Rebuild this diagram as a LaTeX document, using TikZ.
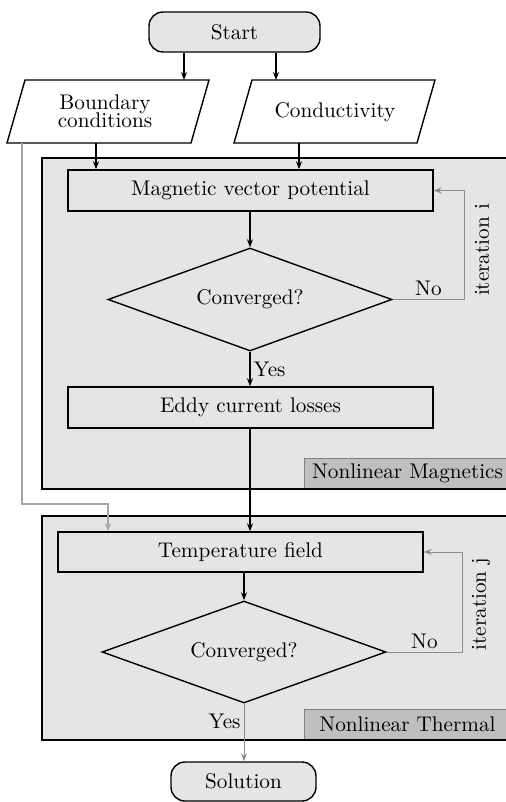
\documentclass[tikz,border=0pt]{standalone}
\usetikzlibrary{shapes.geometric,arrows.meta,calc}
\begin{document}
\begin{tikzpicture}[x=0.5pt,y=-0.5pt,
  font=\fontsize{10.6}{12.7}\selectfont,
  arr/.style={-{Stealth[length=4pt,width=3pt]}, line width=0.6pt, black},
  grayarr/.style={-{Stealth[length=4pt,width=3pt]}, line width=0.5pt, black!45},
  lightarr/.style={-{Stealth[length=4pt,width=3pt]}, line width=0.6pt, gray!70},
  region/.style={fill=gray!20},
  regionborder/.style={draw=black, line width=0.6pt},
  lbl/.style={fill=gray!50, draw=gray, line width=0.5pt, minimum width=103pt, minimum height=15pt, inner sep=0pt, anchor=south west},
  term/.style={draw, fill=gray!20, line width=0.7pt, rounded corners=7pt, inner sep=0pt},
  procbox/.style={draw, line width=0.7pt, minimum width=182.5pt, minimum height=20.5pt, inner sep=0pt},
  decision/.style={draw, diamond, shape aspect=2.76, line width=0.7pt, minimum width=142pt, minimum height=51.5pt, inner sep=0pt},
  para/.style={draw, fill=white, line width=0.7pt},
  lab/.style={inner sep=1.5pt}
]
\useasboundingbox (0,0) rectangle (505,802);

% regions
\path[region] (42,158) rectangle (515,489);
\path[region] (42,516) rectangle (515,740);
\node[lbl] (nlm) at (304,489) {Nonlinear Magnetics};
\node[lbl] (nlt) at (304,740) {Nonlinear Thermal};
\path[regionborder] (42,158) rectangle (515,489);
\path[regionborder] (42,516) rectangle (515,740);

% terminals
\node[term, minimum width=85.5pt, minimum height=20pt] (start) at (234.5,32) {Start};
\node[term, minimum width=72.5pt, minimum height=19.5pt] (sol) at (243.5,781.5) {Solution};

% inputs
\draw[para] (7,143) -- (191,143) -- (209,80) -- (25,80) -- cycle;
\node[align=center] (bc) at (105,111) {Boundary\\[-3.5pt]conditions};
\draw[para] (234,143) -- (417,143) -- (435,80) -- (252,80) -- cycle;
\node (cd) at (335,112) {Conductivity};
\coordinate (bcin) at (184,80);
\coordinate (cdin) at (276,80);
\coordinate (bcout) at (96,143);
\coordinate (cdout) at (299,143);
\coordinate (bcside) at (22,143);

% process
\node[procbox] (mag) at (250.5,190.5) {Magnetic vector potential};
\node[decision] (conv1) at (250,299.5) {Converged?};
\node[procbox] (eddy) at (250.5,407.5) {Eddy current losses};
\node[procbox, minimum height=20pt] (temp) at (240.5,552) {Temperature field};
\node[decision, minimum height=51pt] (conv2) at (244,652) {Converged?};

\coordinate (loopi) at (464,0);
\coordinate (loopj) at (462,0);
\coordinate (bend) at (108,504);

% connectors
\draw[arr] (start.south -| bcin) -- (bcin);
\draw[arr] (start.south -| cdin) -- (cdin);
\draw[arr] (bcout) -- (bcout |- mag.north);
\draw[arr] (cdout) -- (cdout |- mag.north);
\draw[arr] (mag.south -| conv1.north) -- (conv1.north);
\draw[arr] (conv1.south) -- node[right, lab] (yes1) {Yes} (conv1.south |- eddy.north);
\draw[grayarr] (conv1.east) -- node[above, lab, text=black] (no1) {No} (conv1.east -| loopi) |- (mag.east);
\node[rotate=90] (iti) at (482,250) {iteration i};
\draw[arr] (eddy.south -| conv1.south) -- (conv1.south |- temp.north);
\draw[lightarr] (bcside) |- (bend) -- (bend |- temp.north);
\draw[arr] (temp.south -| conv2.north) -- (conv2.north);
\draw[grayarr] (conv2.east) -- node[above, lab, text=black] (no2) {No} (conv2.east -| loopj) |- (temp.east);
\node[rotate=90] (itj) at (481,604) {iteration j};
\draw[grayarr] (conv2.south) -- node[left, lab, pos=0.3, text=black] (yes2) {Yes} (conv2.south |- sol.north);
\end{tikzpicture}
\end{document}
